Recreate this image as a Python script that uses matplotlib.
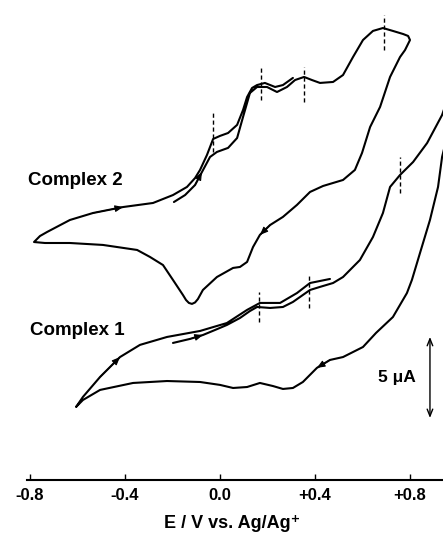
import matplotlib
matplotlib.use("Agg")
import matplotlib.pyplot as plt

plt.rcParams['font.family'] = ['Liberation Sans', 'DejaVu Sans']

# ---- Complex 2 cyclic voltammogram (E in V vs Ag/Ag+, I in uA, arbitrary offset)
c2_E = [-0.194, -0.147, -0.105, -0.076, -0.042, -0.013, 0.034, 0.072, 0.097, 0.126,
        0.156, 0.198, 0.240, 0.282, 0.316,
        0.354, 0.387, 0.421, 0.476, 0.518, 0.560, 0.602, 0.644, 0.686, 0.728, 0.771, 0.792, 0.800,
        0.779, 0.758, 0.716, 0.674, 0.632, 0.598, 0.568, 0.518, 0.434, 0.379, 0.324, 0.265,
        0.211, 0.168, 0.139, 0.114, 0.084, 0.055, -0.013, -0.072, -0.093, -0.105, -0.118,
        -0.131, -0.143, -0.156, -0.198, -0.240, -0.295, -0.349, -0.493, -0.632, -0.737, -0.783,
        -0.758, -0.728, -0.632, -0.535, -0.408, -0.282, -0.198, -0.139, -0.105, -0.084,
        -0.055, -0.029, 0.000, 0.034, 0.072, 0.097, 0.114, 0.135, 0.156, 0.189, 0.232,
        0.265, 0.307]
c2_I = [17.22, 17.65, 18.27, 19.07, 20.00, 20.31, 20.56, 21.17, 22.47, 23.95,
        24.32, 24.32, 24.01, 24.32, 24.75,
        24.94, 24.75, 24.57, 24.63, 25.06, 26.17, 27.22, 27.78, 27.96, 27.78, 27.59, 27.47, 27.22,
        26.60, 26.17, 24.94, 23.09, 21.85, 20.25, 19.20, 18.58, 18.21, 17.84, 17.04, 16.30,
        15.80, 15.19, 14.44, 13.52, 13.21, 13.15, 12.59, 11.79, 11.23, 11.02, 10.93,
        10.99, 11.17, 11.48, 12.41, 13.33, 13.83, 14.26, 14.57, 14.69, 14.69, 14.75,
        15.12, 15.37, 16.11, 16.54, 16.91, 17.16, 17.65, 18.15, 18.70, 19.20,
        20.12, 21.11, 21.30, 21.48, 21.98, 22.90, 23.70, 24.26, 24.44, 24.57, 24.32,
        24.44, 24.88]
c2_arrows = [3, 41, 66]          # segment ends carrying a direction arrow
c2_peaks_E = [-0.029, 0.173, 0.354, 0.691]
c2_peaks_lo = [20.31, 23.52, 23.40, 26.60]
c2_peaks_hi = [22.72, 25.49, 25.56, 28.77]

# ---- Complex 1 cyclic voltammogram
c1_E = [-0.198, -0.126, -0.072, -0.021, 0.029, 0.084, 0.126, 0.156, 0.211, 0.265,
        0.307, 0.379, 0.421, 0.476, 0.518, 0.589, 0.644, 0.686, 0.716, 0.758, 0.813,
        0.872, 0.935, 0.968, 0.975, 0.955,
        0.935, 0.918, 0.884, 0.842, 0.808, 0.787, 0.728, 0.657, 0.602, 0.518, 0.463,
        0.408, 0.349, 0.307, 0.265, 0.223, 0.168, 0.114, 0.055, 0.000, -0.084, -0.223,
        -0.366, -0.505, -0.577, -0.606,
        -0.577, -0.505, -0.421, -0.337, -0.223, -0.084, 0.029, 0.114, 0.168, 0.253,
        0.324, 0.379, 0.463]
c1_I = [8.52, 8.77, 9.01, 9.32, 9.63, 10.06, 10.49, 10.74, 10.68, 10.74,
        11.05, 11.79, 11.98, 12.22, 12.59, 13.64, 15.06, 16.54, 18.15, 18.89, 19.69,
        20.86, 22.59, 24.0, 23.0, 21.2,
        20.00, 18.15, 16.11, 14.07, 12.41, 11.60, 10.12, 9.14, 8.27, 7.65, 7.47,
        6.98, 6.11, 5.74, 5.68, 5.86, 6.05, 5.80, 5.74, 5.93, 6.11, 6.17,
        6.05, 5.62, 5.00, 4.57,
        5.19, 6.42, 7.65, 8.40, 8.89, 9.26, 9.75, 10.56, 10.99, 10.99,
        11.60, 12.22, 12.47]
c1_arrows = [2, 37, 54]
c1_peaks_E = [0.164, 0.375, 0.758]
c1_peaks_lo = [9.81, 10.68, 17.78]
c1_peaks_hi = [11.67, 12.72, 20.00]

x_ticks = [-0.8, -0.4, 0.0, 0.4, 0.8]
x_ticklabels = ['-0.8', '-0.4', '0.0', '+0.4', '+0.8']
scale_E = 0.884
scale_I = [3.89, 8.89]   # 5 uA scale bar

W, H = 443, 538
fig = plt.figure(figsize=(W / 100, H / 100), dpi=100)
ax = fig.add_axes([27 / W, 58 / H, 1 - 27 / W, 1 - 58 / H])
ax.set_xlim(-0.8126, 0.9389)
ax.set_ylim(0.06, 0.06 + 480 / 16.2)

for E, I, arr in [(c2_E, c2_I, c2_arrows), (c1_E, c1_I, c1_arrows)]:
    ax.plot(E, I, color='black', lw=1.5, solid_joinstyle='round', solid_capstyle='round')
    for i in arr:
        ax.annotate('', xy=(E[i], I[i]), xytext=(E[i - 1], I[i - 1]),
                    arrowprops=dict(arrowstyle='-|>,head_length=0.6,head_width=0.25',
                                    color='black', lw=0.8, shrinkA=0, shrinkB=0,
                                    mutation_scale=8))

for pe, lo, hi in [(c2_peaks_E, c2_peaks_lo, c2_peaks_hi), (c1_peaks_E, c1_peaks_lo, c1_peaks_hi)]:
    ax.vlines(pe, lo, hi, colors='black', lw=1.0, linestyles=(0, (3, 2)))

ax.annotate('', xy=(scale_E, scale_I[1]), xytext=(scale_E, scale_I[0]),
            arrowprops=dict(arrowstyle='<->,head_length=0.5,head_width=0.2',
                            color='black', lw=1.0, shrinkA=0, shrinkB=0, mutation_scale=10))
ax.text(0.823, 6.11, '5 \u03bcA', fontsize=12.5, fontweight='bold', ha='right', va='baseline')

ax.text(-0.808, 18.27, 'Complex 2', fontsize=13.5, fontweight='bold', ha='left', va='baseline')
ax.text(-0.800, 9.01, 'Complex 1', fontsize=13.5, fontweight='bold', ha='left', va='baseline')

for s in ['left', 'top', 'right']:
    ax.spines[s].set_visible(False)
ax.spines['bottom'].set_linewidth(1.5)
ax.set_yticks([])
ax.set_xticks(x_ticks)
ax.set_xticklabels(x_ticklabels, fontsize=12, fontweight='bold')
ax.tick_params(axis='x', direction='in', length=4, width=1, pad=6)

fig.text(232 / W, 1 - 523 / H, 'E / V vs. Ag/Ag\u207a', fontsize=13, fontweight='bold',
         ha='center', va='center')

fig.savefig('out.png', dpi=100)
